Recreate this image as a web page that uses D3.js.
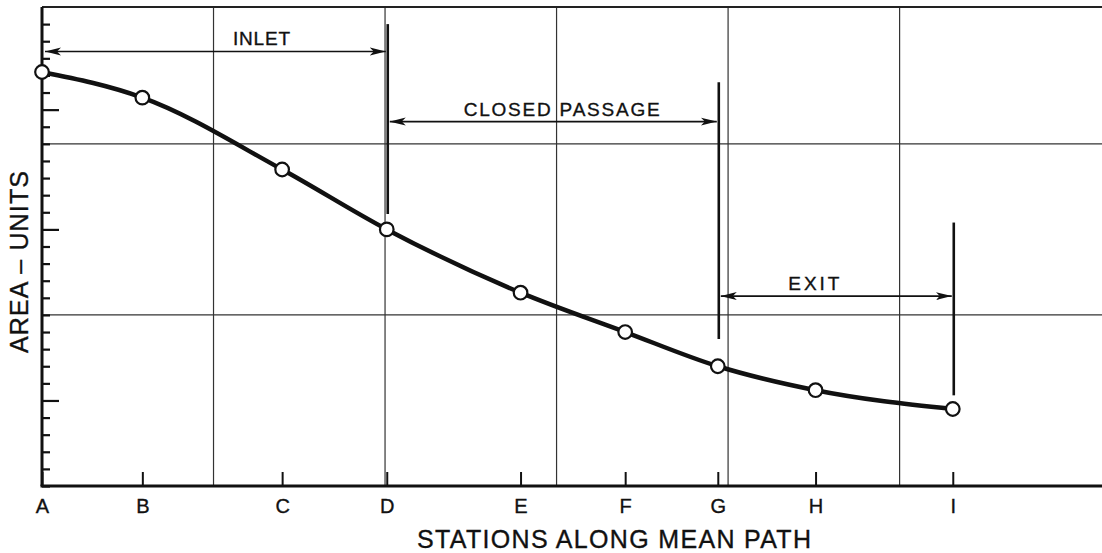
<!DOCTYPE html>
<html>
<head>
<meta charset="utf-8">
<script src="https://cdn.jsdelivr.net/npm/d3@7"></script>
<style>
  html, body { margin: 0; padding: 0; background: #fff; }
  svg { display: block; }
  text { font-family: "Liberation Sans", "DejaVu Sans", sans-serif; fill: #111; stroke: #111; stroke-width: 0.35px; }
</style>
</head>
<body>
<svg id="chart" width="1102" height="553"></svg>
<script>
// ---- data ----
const stations = ["A", "B", "C", "D", "E", "F", "G", "H", "I"];
const stationPos = [0, 5.85, 14.0, 20.1, 27.9, 34.0, 39.4, 45.1, 53.1];
const areaValues = [24.2, 22.7, 18.5, 15.0, 11.3, 9.0, 7.0, 5.6, 4.5];
const yMinorTicks = d3.range(0, 28);
const yLongTicks = [5, 15, 22];
const yGrid = [10, 20];
const xGrid = [10, 20, 30, 40, 50];
// section markers: station index, top value, bottom value
const markerStations = [3, 6, 8];
const markerTops = [27.0, 23.6, 15.4];
const markerBottoms = [15.9, 8.6, 5.3];
// section arrows: label, from station index, to station index, level
const sectionLabels = ["INLET", "CLOSED PASSAGE", "EXIT"];
const sectionFrom = [0, 3, 6];
const sectionTo = [3, 6, 8];
const sectionLevel = [25.4, 21.3, 11.1];
const sectionLabelPos = [12.8, 30.3, 45.0];
const xTitle = "STATIONS ALONG MEAN PATH";
const yTitle = "AREA – UNITS";

// ---- layout ----
const W = 1102, H = 553;
const mLeft = 42, mRight = 1102, mTop = 7, mBottom = 486;
const x = d3.scaleLinear().domain([0, 61.8]).range([mLeft, mRight]);
const y = d3.scaleLinear().domain([0, 28]).range([mBottom, mTop]);
const svg = d3.select("#chart");
const ink = "#111";

// grid
svg.append("g").selectAll("line").data(yGrid).join("line")
  .attr("x1", mLeft).attr("x2", mRight)
  .attr("y1", d => y(d)).attr("y2", d => y(d))
  .attr("stroke", "#333").attr("stroke-width", 1.2);
svg.append("g").selectAll("line").data(xGrid).join("line")
  .attr("x1", d => x(d)).attr("x2", d => x(d))
  .attr("y1", mTop).attr("y2", mBottom)
  .attr("stroke", "#333").attr("stroke-width", 1.2);

// top border
svg.append("line").attr("x1", mLeft).attr("x2", mRight)
  .attr("y1", mTop).attr("y2", mTop).attr("stroke", "#222").attr("stroke-width", 2);

// y axis (ticks inward)
const yAxis = d3.axisRight(y).tickValues(yMinorTicks).tickSize(8).tickFormat("");
const gy = svg.append("g").attr("transform", `translate(${mLeft},0)`).call(yAxis);
gy.select(".domain").remove();
gy.selectAll(".tick line").attr("stroke", ink).attr("stroke-width", 2.2)
  .filter(d => yLongTicks.includes(d)).attr("x2", 17);
svg.append("line").attr("x1", mLeft).attr("x2", mLeft).attr("y1", mTop).attr("y2", mBottom)
  .attr("stroke", ink).attr("stroke-width", 3);

// x axis
const xAxis = d3.axisBottom(x).tickValues(stationPos)
  .tickFormat((d, i) => stations[i]).tickSizeInner(-14).tickSizeOuter(0).tickPadding(13);
const gx = svg.append("g").attr("transform", `translate(0,${mBottom})`).call(xAxis);
gx.select(".domain").remove();
gx.selectAll(".tick line").attr("stroke", ink).attr("stroke-width", 2);
gx.selectAll(".tick text").attr("font-size", 20).attr("fill", ink)
  .style("font-family", '"Liberation Sans", sans-serif');
svg.append("line").attr("x1", mLeft - 1.5).attr("x2", mRight).attr("y1", mBottom).attr("y2", mBottom)
  .attr("stroke", ink).attr("stroke-width", 3);

// axis titles
svg.append("text").attr("x", 614).attr("y", 548).attr("text-anchor", "middle")
  .attr("font-size", 25).attr("textLength", 394).attr("lengthAdjust", "spacing")
  .text(xTitle);
svg.append("text").attr("transform", "translate(28,262) rotate(-90)").attr("text-anchor", "middle")
  .attr("font-size", 25).attr("textLength", 182).attr("lengthAdjust", "spacing")
  .text(yTitle);

// section markers
svg.append("g").selectAll("line").data(markerStations).join("line")
  .attr("x1", (d) => x(stationPos[d]) + 1).attr("x2", (d) => x(stationPos[d]) + 1)
  .attr("y1", (d, i) => y(markerTops[i])).attr("y2", (d, i) => y(markerBottoms[i]))
  .attr("stroke", ink).attr("stroke-width", 2.6);

// arrows
const defs = svg.append("defs");
defs.append("marker").attr("id", "ah").attr("viewBox", "0 0 16 10")
  .attr("refX", 16).attr("refY", 5).attr("markerWidth", 16).attr("markerHeight", 10)
  .attr("markerUnits", "userSpaceOnUse").attr("orient", "auto-start-reverse")
  .append("path").attr("d", "M0,1 L16,5 L0,9 L4,5 Z").attr("fill", ink);

const sections = sectionLabels.map((s, i) => ({ s, i }));
svg.append("g").selectAll("line").data(sections).join("line")
  .attr("x1", d => x(stationPos[sectionFrom[d.i]]) + 3)
  .attr("x2", d => x(stationPos[sectionTo[d.i]]) - 1)
  .attr("y1", d => y(sectionLevel[d.i])).attr("y2", d => y(sectionLevel[d.i]))
  .attr("stroke", ink).attr("stroke-width", 1.6)
  .attr("marker-start", "url(#ah)").attr("marker-end", "url(#ah)");
const labelLens = [57, 196, 51];
svg.append("g").selectAll("text").data(sections).join("text")
  .attr("x", d => x(sectionLabelPos[d.i]))
  .attr("y", d => y(sectionLevel[d.i]) - 6)
  .attr("text-anchor", "middle").attr("font-size", 19)
  .attr("textLength", d => labelLens[d.i]).attr("lengthAdjust", "spacing")
  .text(d => d.s);

// curve
const pts = stationPos.map((p, i) => [p, areaValues[i]]);
const line = d3.line().x(d => x(d[0])).y(d => y(d[1])).curve(d3.curveMonotoneX);
svg.append("path").datum(pts).attr("d", line)
  .attr("fill", "none").attr("stroke", ink).attr("stroke-width", 4.5)
  .attr("stroke-linejoin", "round").attr("stroke-linecap", "round");
svg.append("g").selectAll("circle").data(pts).join("circle")
  .attr("cx", d => x(d[0])).attr("cy", d => y(d[1])).attr("r", 6.8)
  .attr("fill", "#fff").attr("stroke", ink).attr("stroke-width", 2.2);
</script>
</body>
</html>
